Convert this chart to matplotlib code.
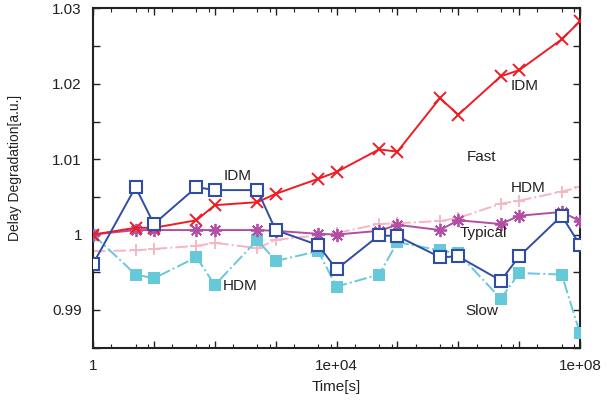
import numpy as np
import matplotlib.pyplot as plt
from matplotlib.ticker import LogLocator, FixedLocator, MultipleLocator, NullFormatter

plt.rcParams['font.family'] = ['Liberation Sans', 'DejaVu Sans']

# Данные
time_s = [1, 5, 10, 50, 100, 500, 1e3, 5e3, 1e4, 5e4, 1e5, 5e5, 1e6, 5e6, 1e7, 5e7, 1e8]

fast_idm = [1.0000, 1.0009, 1.0009, 1.0019, 1.0039, 1.0043, 1.0054, 1.0074, 1.0083,
            1.0113, 1.0110, 1.0181, 1.0159, 1.0210, 1.0218, 1.0259, 1.0283]
fast_hdm = [0.9978, 0.9979, 0.9981, 0.9985, 0.9989, 0.9982, 0.9993, 0.9999, 1.0002,
            1.0014, 1.0015, 1.0018, 1.0022, 1.0041, 1.0045, 1.0057, 1.0063]
typical_idm = [1.0000, 1.0006, 1.0006, 1.0006, 1.0006, 1.0006, 1.0005, 1.0001, 1.0000,
               1.0005, 1.0013, 1.0006, 1.0019, 1.0014, 1.0025, 1.0030, 1.0018]
slow_idm = [0.9961, 1.0063, 1.0014, 1.0063, 1.0059, 1.0059, 1.0006, 0.9986, 0.9954,
            0.9999, 0.9998, 0.9970, 0.9971, 0.9939, 0.9971, 1.0025, 0.9986]
slow_hdm = [1.0000, 0.9947, 0.9942, 0.9970, 0.9933, 0.9993, 0.9965, 0.9978, 0.9931,
            0.9947, 0.9990, 0.9979, 0.9975, 0.9915, 0.9949, 0.9947, 0.9869]

x_tick_labels = ['1', '', '', '', '1e+04', '', '', '', '1e+08']
y_tick_values = [0.99, 1.0, 1.01, 1.02, 1.03]
y_tick_labels = ['0.99', '1', '1.01', '1.02', '1.03']

# Подписи кривых (доли осей)
annotations = [
    ('IDM', 0.296, 0.506), ('HDM', 0.302, 0.182),
    ('Fast', 0.797, 0.562), ('IDM', 0.887, 0.771),
    ('HDM', 0.893, 0.470), ('Typical', 0.801, 0.337),
    ('Slow', 0.799, 0.107),
]

# Фигура
fig = plt.figure(figsize=(6.08, 4.01), dpi=100)
ax = fig.add_axes([0.153, 0.133, 0.801, 0.846])

asterisk = (8, 2, 0)
ax.plot(time_s, fast_hdm, color='#f5b5c3', linestyle='-.', linewidth=1.4,
        marker='+', markersize=9, markeredgewidth=1.3, zorder=2)
ax.plot(time_s, slow_hdm, color='#66c9d9', linestyle='-.', linewidth=1.4,
        marker='s', markersize=8.5, markeredgewidth=0, zorder=3)
ax.plot(time_s, typical_idm, color='#b34ea5', linestyle='-', linewidth=1.4,
        marker=asterisk, markersize=9.5, markeredgewidth=1.3, zorder=4)
ax.plot(time_s, fast_idm, color='#ee1c24', linestyle='-', linewidth=1.4,
        marker='x', markersize=8.5, markeredgewidth=1.4, zorder=5)
ax.plot(time_s, slow_idm, color='#2f4ea3', linestyle='-', linewidth=1.4,
        marker='s', markersize=8.5, markerfacecolor='white', markeredgewidth=1.5, zorder=6)

for txt, fx, fy in annotations:
    ax.text(fx, fy, txt, transform=ax.transAxes, ha='center', va='center',
            fontsize=11, color='#222222', zorder=10)

# Оси
ax.set_xscale('log')
ax.set_xlim(1, 1e8)
ax.set_ylim(0.985, 1.03)

ax.xaxis.set_major_locator(FixedLocator([10.0 ** k for k in range(9)]))
ax.set_xticklabels(x_tick_labels)
ax.xaxis.set_minor_locator(LogLocator(base=10, subs=(2, 5, 8), numticks=20))
ax.xaxis.set_minor_formatter(NullFormatter())

ax.set_yticks(y_tick_values, y_tick_labels)
ax.yaxis.set_minor_locator(MultipleLocator(0.005))

ax.tick_params(which='both', direction='in', top=True, right=True,
               labelsize=11, colors='#222222', pad=8)
ax.tick_params(which='major', length=5, width=1)
ax.tick_params(which='minor', length=3, width=0.8)
ax.tick_params(axis='y', which='minor', length=5, width=1)

for s in ax.spines.values():
    s.set_linewidth(1.5)
    s.set_color('#222222')

ax.set_xlabel('Time[s]', fontsize=11, color='#222222', labelpad=5)
ax.set_ylabel('Delay Degradation[a.u.]', fontsize=10, color='#222222')
ax.yaxis.set_label_coords(-0.145, 0.53)

fig.savefig('out.png', dpi=100)
